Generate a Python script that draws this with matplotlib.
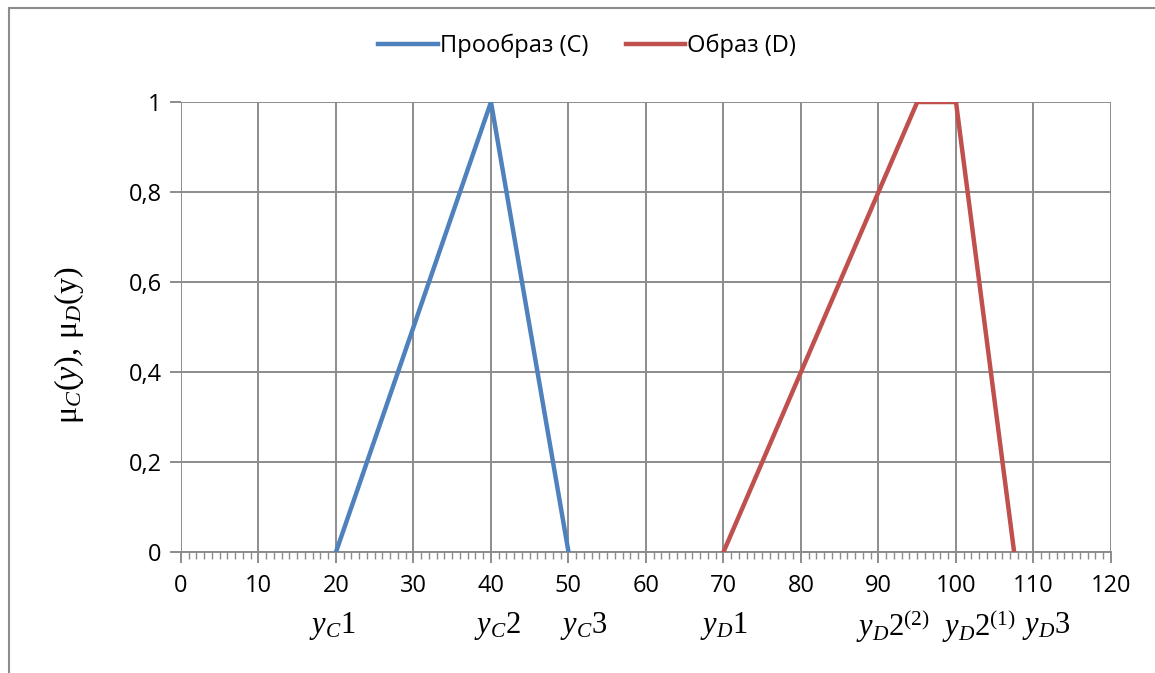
import matplotlib.pyplot as plt
from matplotlib.lines import Line2D
from matplotlib.ticker import MultipleLocator, FuncFormatter
import matplotlib.transforms as mtransforms

plt.rcParams['font.family'] = ['Open Sans', 'DejaVu Sans']
plt.rcParams['mathtext.fontset'] = 'custom'
plt.rcParams['mathtext.rm'] = 'Liberation Serif'
plt.rcParams['mathtext.it'] = 'Liberation Serif:italic'

# data
c_x = [20, 40, 50]
c_y = [0, 1, 0]
d_x = [70, 95, 100, 107.5]
d_y = [0, 1, 1, 0]
series_names = ['Прообраз (С)', 'Образ (D)']
series_colors = ['#4F81BD', '#C0504D']

ann_labels = [r'$y_C1$', r'$y_C2$', r'$y_C3$', r'$y_D1$',
              r'$y_D2^{(2)}$', r'$y_D2^{(1)}$', r'$y_D3$']
ann_x = [19.5, 40.8, 51.9, 70, 91.9, 103, 111.6]

fig = plt.figure(figsize=(11.55, 6.73), dpi=100)
ax = fig.add_axes([0.1567, 0.1798, 0.8052, 0.6686])

ax.plot(c_x, c_y, color=series_colors[0], lw=3.2, label=series_names[0], zorder=3)
ax.plot(d_x, d_y, color=series_colors[1], lw=3.2, label=series_names[1], zorder=3)

ax.set_xlim(0, 120)
ax.set_ylim(0, 1)
ax.xaxis.set_major_locator(MultipleLocator(10))
ax.xaxis.set_minor_locator(MultipleLocator(1))
ax.yaxis.set_major_locator(MultipleLocator(0.2))
ax.yaxis.set_major_formatter(FuncFormatter(lambda v, p: ('%g' % round(v, 1)).replace('.', ',')))

grid_c = '#8C8C8C'
ax.grid(True, which='major', color=grid_c, lw=1.4, zorder=1)
for s in ['top', 'right', 'left']:
    ax.spines[s].set_visible(False)
ax.spines['bottom'].set_color(grid_c)
ax.spines['bottom'].set_linewidth(1.4)
ax.tick_params(axis='x', which='major', direction='out', length=8, width=1.4,
               color=grid_c, labelsize=17, pad=8)
ax.tick_params(axis='x', which='minor', direction='out', length=5, width=1.0,
               color=grid_c)
ax.tick_params(axis='y', which='major', direction='out', length=8, width=1.4,
               color=grid_c, labelsize=17, pad=6)

ax.set_ylabel(r'$\mathrm{\mu}_C(y),\,\mathrm{\mu}_D(\mathrm{y})$', fontsize=23)
ax.yaxis.set_label_coords(-0.102, 0.46)

trans = mtransforms.blended_transform_factory(ax.transData, ax.transAxes)
for lab, xv in zip(ann_labels, ann_x):
    ax.text(xv, -0.165, lab, transform=trans, ha='center', va='center',
            fontsize=22, clip_on=False)

ax.legend(loc='lower center', bbox_to_anchor=(0.437, 1.05), ncol=2, frameon=False,
          fontsize=17, handlelength=2.5, handletextpad=0.1, columnspacing=1.6)

# outer chart frame (left and top only visible)
fig.add_artist(Line2D([0.0075, 0.0075], [0.0, 0.988], transform=fig.transFigure,
                      color='#8C8C8C', lw=1.5))
fig.add_artist(Line2D([0.0075, 1.0], [0.988, 0.988], transform=fig.transFigure,
                      color='#8C8C8C', lw=1.5))

fig.savefig('out.png', dpi=100)
